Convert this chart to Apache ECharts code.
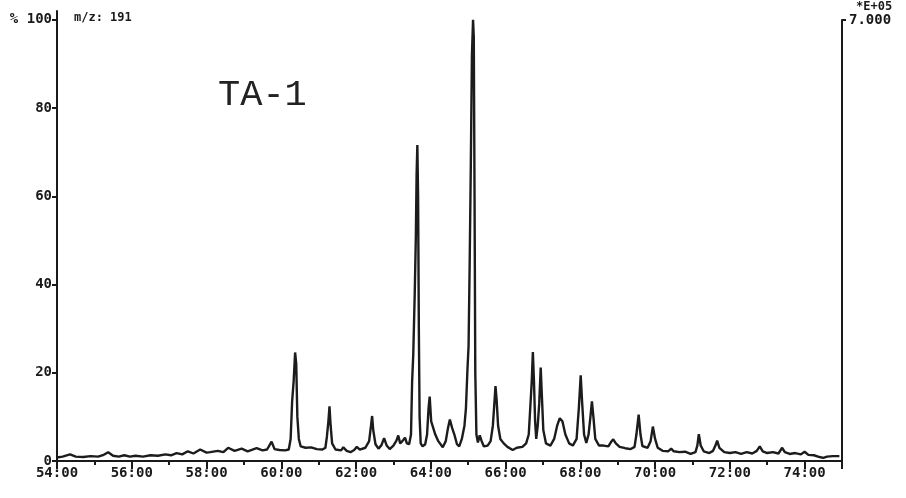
<!DOCTYPE html>
<html>
<head>
<meta charset="utf-8">
<script src="https://cdn.jsdelivr.net/npm/echarts@6/dist/echarts.min.js"></script>
<style>
  html, body { margin: 0; padding: 0; background: #fff; }
  #chart { width: 906px; height: 498px; }
</style>
</head>
<body>
<div id="chart"></div>
<script>
// Ion chromatogram, m/z 191 – retention time (min) vs relative abundance (%)
const retentionTimes = [
  54.00, 54.15, 54.35, 54.50, 54.70, 54.90, 55.10, 55.25, 55.37, 55.50,
  55.65, 55.80, 55.95, 56.10, 56.30, 56.50, 56.70, 56.90, 57.05, 57.20,
  57.35, 57.50, 57.65, 57.83, 58.00, 58.10, 58.30, 58.45, 58.58, 58.75,
  58.94, 59.10, 59.34, 59.50, 59.62, 59.74, 59.82, 59.95, 60.10, 60.20,
  60.25, 60.29, 60.33, 60.37, 60.40, 60.43, 60.47, 60.52, 60.65, 60.80,
  60.95, 61.10, 61.18, 61.22, 61.26, 61.29, 61.32, 61.36, 61.45, 61.60,
  61.66, 61.75, 61.85, 61.95, 62.02, 62.10, 62.25, 62.35, 62.40, 62.43,
  62.46, 62.52, 62.60, 62.68, 62.75, 62.82, 62.90, 63.00, 63.08, 63.13,
  63.18, 63.24, 63.31, 63.36, 63.42, 63.47, 63.50, 63.53, 63.57, 63.60,
  63.62, 63.64, 63.66, 63.68, 63.70, 63.73, 63.78, 63.85, 63.90, 63.94,
  63.97, 64.01, 64.06, 64.12, 64.20, 64.32, 64.40, 64.46, 64.51, 64.57,
  64.63, 64.70, 64.76, 64.83, 64.90, 64.94, 64.98, 65.01, 65.04, 65.07,
  65.10, 65.13, 65.15, 65.17, 65.19, 65.22, 65.26, 65.31, 65.36, 65.42,
  65.52, 65.60, 65.66, 65.70, 65.73, 65.76, 65.80, 65.86, 65.95, 66.05,
  66.19, 66.30, 66.45, 66.55, 66.62, 66.66, 66.70, 66.73, 66.76, 66.79,
  66.82, 66.86, 66.90, 66.94, 66.97, 67.01, 67.08, 67.20, 67.30, 67.38,
  67.45, 67.52, 67.60, 67.70, 67.80, 67.90, 67.96, 68.01, 68.05, 68.10,
  68.16, 68.22, 68.27, 68.31, 68.35, 68.40, 68.50, 68.62, 68.75, 68.82,
  68.88, 68.95, 69.05, 69.20, 69.35, 69.45, 69.50, 69.56, 69.61, 69.66,
  69.80, 69.88, 69.94, 70.00, 70.07, 70.20, 70.35, 70.43, 70.50, 70.65,
  70.80, 70.95, 71.08, 71.13, 71.17, 71.22, 71.30, 71.45, 71.55, 71.62,
  71.66, 71.72, 71.85, 72.00, 72.15, 72.30, 72.45, 72.60, 72.72, 72.80,
  72.88, 73.00, 73.15, 73.30, 73.40, 73.47, 73.60, 73.75, 73.90, 74.00,
  74.10, 74.25, 74.40, 74.50, 74.60, 74.75, 74.93
];

const abundance = [
  0.8, 1.0, 1.5, 1.0, 0.9, 1.1, 1.0, 1.4, 2.0, 1.2,
  1.0, 1.3, 1.0, 1.2, 1.0, 1.3, 1.2, 1.5, 1.3, 1.8,
  1.5, 2.2, 1.7, 2.6, 1.9, 2.0, 2.3, 2.0, 3.0, 2.3,
  2.8, 2.2, 2.9, 2.4, 2.6, 4.4, 2.7, 2.5, 2.4, 2.6,
  5.0, 13.5, 18.0, 24.6, 22.0, 10.0, 5.0, 3.3, 3.0, 3.1,
  2.7, 2.6, 3.0, 5.5, 9.0, 12.4, 8.0, 4.0, 2.6, 2.4,
  3.1, 2.3, 2.0, 2.5, 3.2, 2.6, 3.0, 4.5, 8.0, 10.2,
  7.0, 3.8, 2.8, 3.6, 5.2, 3.5, 2.7, 3.5, 4.6, 5.8,
  4.0, 4.5, 5.3, 4.0, 3.8, 6.0, 18.0, 24.0, 38.0, 51.0,
  65.0, 71.6, 60.0, 30.0, 10.0, 4.0, 3.3, 3.8, 6.0, 12.0,
  14.6, 9.0, 8.6, 6.0, 4.5, 3.1, 4.5, 7.5, 9.4, 7.5,
  6.0, 3.8, 3.3, 5.0, 8.0, 12.0, 20.7, 26.0, 45.0, 67.0,
  92.0, 100.0, 96.0, 60.0, 20.0, 6.0, 4.2, 5.8, 4.5, 3.3,
  3.5, 4.5, 8.0, 13.0, 17.0, 14.0, 8.0, 5.0, 4.0, 3.2,
  2.5, 3.0, 3.2, 4.0, 6.0, 12.0, 18.0, 24.7, 18.0, 9.0,
  5.0, 8.0, 13.0, 21.2, 15.0, 7.0, 4.0, 3.5, 5.0, 8.0,
  9.7, 9.0, 6.0, 4.0, 3.5, 5.0, 12.0, 19.4, 13.0, 6.0,
  4.1, 6.0, 10.0, 13.5, 10.0, 5.0, 3.5, 3.5, 3.3, 4.3,
  4.9, 4.0, 3.2, 2.9, 2.7, 3.2, 6.0, 10.5, 6.0, 3.4,
  3.0, 4.5, 7.8, 5.0, 3.0, 2.3, 2.2, 2.8, 2.2, 2.0,
  2.1, 1.6, 2.0, 3.5, 6.1, 3.5, 2.2, 1.8, 2.3, 3.6,
  4.6, 3.0, 2.0, 1.8, 2.0, 1.6, 2.0, 1.7, 2.3, 3.3,
  2.2, 1.8, 2.0, 1.7, 3.0, 2.0, 1.6, 1.8, 1.5, 2.1,
  1.4, 1.3, 0.9, 0.7, 1.0, 1.1, 1.1
];

// Axis tick positions
const timeLabelTicks = [54, 56, 58, 60, 62, 64, 66, 68, 70, 72, 74];
const timeMajorTicks = [54, 56, 58, 60, 62, 64, 66, 68, 70, 72, 74, 75];
const timeMinorTicks = [55, 57, 59, 61, 63, 65, 67, 69, 71, 73];
const percentTicks = [0, 20, 40, 60, 80, 100];

const traceData = retentionTimes.map((t, i) => [t, abundance[i]]);

const labelFont = {
  fontFamily: '"DejaVu Sans Mono", monospace',
  fontWeight: 'bold',
  fontSize: 14,
  color: '#1a1a1a'
};
const ink = '#1a1a1a';

const chart = echarts.init(document.getElementById('chart'), null, { renderer: 'canvas' });

chart.setOption({
  backgroundColor: '#ffffff',
  animation: false,
  title: [
    {
      text: 'TA-1',
      left: 213,
      top: 72,
      textStyle: {
        fontFamily: '"Liberation Mono", "DejaVu Sans Mono", monospace',
        fontWeight: 'normal',
        fontSize: 37,
        color: '#222'
      }
    },
    {
      text: 'm/z: 191',
      left: 69,
      top: 7,
      textStyle: Object.assign({}, labelFont, { fontSize: 12 })
    }
  ],
  grid: [
    { left: 57, right: 64, top: 11, bottom: 37 },
    { left: 57, right: 64, top: 20, bottom: 37 }
  ],
  xAxis: [
    {
      type: 'value', gridIndex: 0, min: 54, max: 75,
      axisLine: { show: true, onZero: false, lineStyle: { color: ink, width: 2 } },
      axisTick: { show: true, inside: false, length: 4, customValues: timeMinorTicks,
                  lineStyle: { color: ink, width: 2 } },
      axisLabel: { show: false },
      splitLine: { show: false }
    },
    {
      type: 'value', gridIndex: 0, min: 54, max: 75, position: 'bottom',
      axisLine: { show: false },
      axisTick: { show: true, inside: false, length: 8, customValues: timeMajorTicks,
                  lineStyle: { color: ink, width: 2 } },
      axisLabel: Object.assign({}, labelFont, {
        customValues: timeLabelTicks,
        margin: 5,
        formatter: v => v + ':00'
      }),
      splitLine: { show: false }
    },
    {
      type: 'value', gridIndex: 1, min: 54, max: 75, show: false
    }
  ],
  yAxis: [
    {
      type: 'value', gridIndex: 0, min: 0, max: 102,
      axisLine: { show: true, onZero: false, lineStyle: { color: ink, width: 2 } },
      axisTick: { show: true, length: 5, customValues: percentTicks,
                  lineStyle: { color: ink, width: 2 } },
      axisLabel: Object.assign({}, labelFont, {
        customValues: percentTicks,
        margin: 5,
        formatter: v => (v === 100 ? '% 100' : String(v))
      }),
      splitLine: { show: false }
    },
    {
      type: 'value', gridIndex: 1, min: 0, max: 100, position: 'right',
      name: '*E+05',
      nameLocation: 'end',
      nameGap: 3,
      nameTextStyle: Object.assign({}, labelFont, { fontSize: 12, align: 'left', padding: [0, 0, 0, 14] }),
      axisLine: { show: true, onZero: false, lineStyle: { color: ink, width: 2 } },
      axisTick: { show: true, inside: false, length: 4, customValues: [100],
                  lineStyle: { color: ink, width: 2 } },
      axisLabel: Object.assign({}, labelFont, {
        customValues: [100],
        margin: 7,
        verticalAlign: 'middle',
        formatter: () => '7.000'
      }),
      splitLine: { show: false }
    }
  ],
  series: [
    {
      type: 'line',
      xAxisIndex: 0,
      yAxisIndex: 0,
      data: traceData,
      showSymbol: false,
      symbol: 'none',
      smooth: false,
      lineStyle: { color: '#1c1c1c', width: 2.4 },
      clip: true
    }
  ]
});
</script>
</body>
</html>
